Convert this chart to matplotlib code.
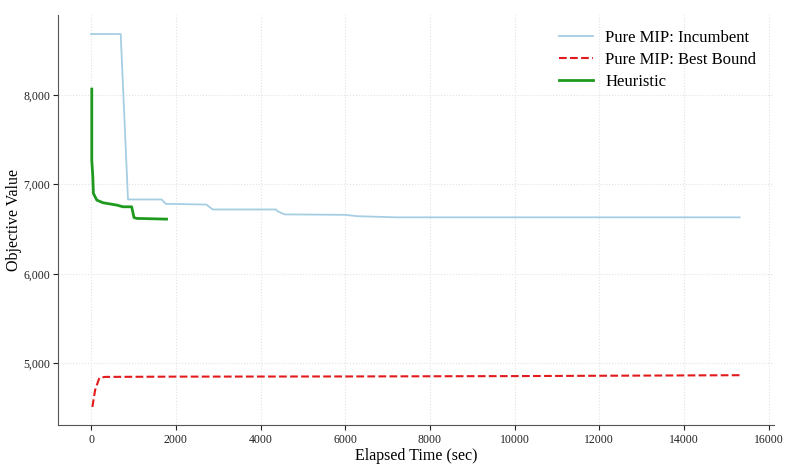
import matplotlib
matplotlib.use('Agg')
from matplotlib import pyplot as plt
from matplotlib.ticker import FuncFormatter

# Pure MIP incumbent (step-like)
inc_t = [0, 699, 871, 1664, 1765, 2722, 2871, 4369, 4400, 4565, 5993, 6282, 7200, 15311]
inc_v = [8683, 8683, 6832, 6832, 6783, 6775, 6720, 6720, 6701, 6665, 6660, 6645, 6632, 6632]

# Pure MIP best bound
bnd_t = [31, 94, 195, 329, 2000, 6000, 10000, 15311]
bnd_v = [4511, 4698, 4836, 4847, 4850, 4852, 4856, 4866]

# Heuristic
heu_t = [16, 16, 40, 54, 134, 282, 605, 753, 958, 1012, 1075, 1781]
heu_v = [8067, 7272, 7093, 6900, 6825, 6795, 6769, 6750, 6750, 6630, 6620, 6612]

plt.rcParams['font.family'] = ['Liberation Serif', 'DejaVu Serif']

fig = plt.figure(figsize=(8, 4.7), dpi=100)
ax = fig.add_axes([0.073, 0.095, 0.895, 0.873])

ax.plot(inc_t, inc_v, color='#a6cee3', lw=1.3, label='Pure MIP: Incumbent')
ax.plot(bnd_t, bnd_v, color='#e31a1c', lw=1.5, ls='--', label='Pure MIP: Best Bound')
ax.plot(heu_t, heu_v, color='#1e9a1e', lw=2.0, label='Heuristic')

ax.set_xlim(-772, 16134)
ax.set_ylim(4305, 8895)
ax.set_xticks(range(0, 16001, 2000))
ax.set_yticks([5000, 6000, 7000, 8000])
ax.yaxis.set_major_formatter(FuncFormatter(lambda v, p: f'{int(v):,}'))

ax.grid(True, ls=':', color='#e2e2e2', lw=0.8)
for s in ['top', 'right']:
    ax.spines[s].set_visible(False)
for s in ['left', 'bottom']:
    ax.spines[s].set_color('#555555')
ax.tick_params(labelsize=8.5, colors='#222222', length=3.5, pad=2.5)

ax.set_xlabel('Elapsed Time (sec)', fontsize=11.5, labelpad=2)
ax.set_ylabel('Objective Value', fontsize=11.5)
ax.yaxis.set_label_coords(-0.051, 0.5)
ax.legend(loc='upper right', frameon=False, fontsize=12, handlelength=2.0,
          handletextpad=0.75, labelspacing=0.35, borderaxespad=0,
          bbox_to_anchor=(0.984, 0.98))

fig.savefig('out.png', dpi=100)
